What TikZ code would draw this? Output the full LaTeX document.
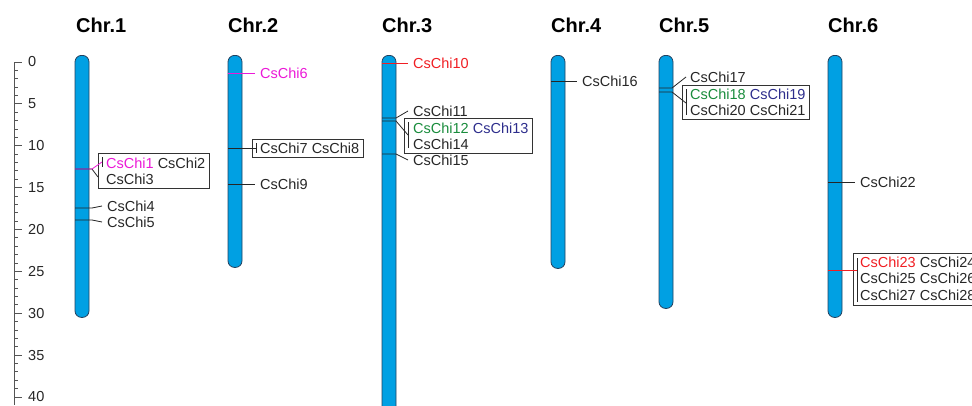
\documentclass[tikz,border=0pt]{standalone}
\usepackage{fontspec}
\setmainfont{Liberation Sans}
\usetikzlibrary{fit}
\definecolor{chrblue}{RGB}{0,160,227}
\definecolor{chrline}{RGB}{35,65,95}
\definecolor{genemag}{RGB}{235,25,215}
\definecolor{genered}{RGB}{240,30,35}
\definecolor{genegreen}{RGB}{25,140,60}
\definecolor{genenavy}{RGB}{45,45,140}
\definecolor{scalegray}{RGB}{85,85,85}
\begin{document}
\begin{tikzpicture}[x=1pt,y=-1pt,
	chrom/.style={draw=chrline,fill=chrblue,rounded corners=6.5pt,minimum width=14pt,inner sep=0pt,line width=0.8pt,anchor=north},
	gene/.style={font=\fontsize{14.5}{15.8}\selectfont,anchor=west,inner sep=0pt,text=black!85},
	genelist/.style={gene,anchor=north west,align=left},
	genebox/.style={draw=black!80,line width=0.7pt,inner sep=3.5pt},
	chrname/.style={font=\fontsize{20}{24}\selectfont\bfseries,anchor=west,inner sep=0pt},
	link/.style={line width=0.8pt,black!85}]
	\useasboundingbox (0,0) rectangle (972,405);
	\clip (0,0) rectangle (972,405);

	% scale in Mb
	\draw[scalegray,line width=0.8pt] (14,62) -- (14,405);
	\foreach \i in {0,...,40} \draw[scalegray,line width=0.8pt] (14,{62+8.375*\i}) -- ++(4,0);
	\foreach \i in {0,5,...,40}{
		\draw[scalegray,line width=0.8pt] (14,{62+8.375*\i}) -- ++(8,0);
		\node[gene] (s\i) at (28,{62+8.375*\i}) {\i};
	}

	\node[chrname] (n1) at (76,25) {Chr.1};
	\node[chrname] (n2) at (228,25) {Chr.2};
	\node[chrname] (n3) at (382,25) {Chr.3};
	\node[chrname] (n4) at (551,25) {Chr.4};
	\node[chrname] (n5) at (659,25) {Chr.5};
	\node[chrname] (n6) at (828,25) {Chr.6};

	\node[chrom,minimum height=262pt] (chr1) at (82,55) {};
	\node[chrom,minimum height=212pt] (chr2) at (235,55) {};
	\node[chrom,minimum height=380pt] (chr3) at (389,55) {};
	\node[chrom,minimum height=213pt] (chr4) at (558,55) {};
	\node[chrom,minimum height=253pt] (chr5) at (666,55) {};
	\node[chrom,minimum height=262pt] (chr6) at (835,55) {};

	% Chr.1
	\node[genelist] (g1) at (106,157.5) {\textcolor{genemag}{CsChi1} CsChi2\\CsChi3};
	\coordinate (b1a) at (102,157); \coordinate (b1b) at (102,167); \coordinate (b1) at (102,162);
	\draw[link] (b1a) -- (b1b);
	\node[genebox,fit=(g1)(b1a)(b1b)] (box1) {};
	\coordinate (k1) at (75,169); \coordinate (e3) at (98,177);
	\draw[link] (k1) -- ++(17,0) -- (e3);
	\draw[link,genemag] (k1) -- ++(17,0) -- (b1);
	\node[gene] (g4) at (107,206) {CsChi4};
	\node[gene] (g5) at (107,222) {CsChi5};
	\coordinate (k4) at (75,208); \coordinate (k5) at (75,220);
	\draw[link] (k4) -- ++(17,0) -- ([xshift=-5pt]g4.west);
	\draw[link] (k5) -- ++(17,0) -- ([xshift=-5pt]g5.west);

	% Chr.2
	\node[gene,text=genemag] (g6) at (260,73) {CsChi6};
	\coordinate (k6) at (228,73);
	\draw[link,genemag] (k6) -- ([xshift=-5pt]g6.west);
	\node[gene] (g7) at (260,148) {CsChi7 CsChi8};
	\coordinate (b7a) at (256,143); \coordinate (b7b) at (256,153);
	\draw[link] (b7a) -- (b7b);
	\node[genebox,fit=(g7)(b7a)(b7b)] (box7) {};
	\coordinate (k7) at (228,148);
	\draw[link] (k7) -- (k7 -| b7a);
	\node[gene] (g9) at (260,184) {CsChi9};
	\coordinate (k9) at (228,184);
	\draw[link] (k9) -- ([xshift=-5pt]g9.west);

	% Chr.3
	\node[gene,text=genered] (g10) at (413,63) {CsChi10};
	\coordinate (k10) at (382,63);
	\draw[link,genered] (k10) -- ([xshift=-5pt]g10.west);
	\node[gene] (g11) at (413,111) {CsChi11};
	\coordinate (k11) at (382,118);
	\draw[link] (k11) -- ++(14,0) -- ([xshift=-5pt]g11.west);
	\node[genelist] (g12) at (413,122.5) {\textcolor{genegreen}{CsChi12} \textcolor{genenavy}{CsChi13}\\CsChi14};
	\coordinate (b12a) at (408,122); \coordinate (b12b) at (408,148); \coordinate (b12) at (408,135);
	\draw[link] (b12a) -- (b12b);
	\node[genebox,fit=(g12)(b12a)(b12b)] (box12) {};
	\coordinate (k12) at (382,121);
	\draw[link] (k12) -- ++(14,0) -- (b12);
	\node[gene] (g15) at (413,160) {CsChi15};
	\coordinate (k15) at (382,154);
	\draw[link] (k15) -- ++(14,0) -- ([xshift=-5pt]g15.west);

	% Chr.4
	\node[gene] (g16) at (582,81) {CsChi16};
	\coordinate (k16) at (551,81);
	\draw[link] (k16) -- ([xshift=-5pt]g16.west);

	% Chr.5
	\node[gene] (g17) at (690,77) {CsChi17};
	\coordinate (k17) at (659,88);
	\draw[link] (k17) -- ++(13,0) -- ([xshift=-4pt]g17.west);
	\node[genelist] (g18) at (690,88.5) {\textcolor{genegreen}{CsChi18} \textcolor{genenavy}{CsChi19}\\CsChi20 CsChi21};
	\coordinate (b18a) at (686,89); \coordinate (b18b) at (686,115); \coordinate (b18) at (686,103);
	\draw[link] (b18a) -- (b18b);
	\node[genebox,fit=(g18)(b18a)(b18b)] (box18) {};
	\coordinate (k18) at (659,92);
	\draw[link] (k18) -- ++(13,0) -- (b18);

	% Chr.6
	\node[gene] (g22) at (860,182) {CsChi22};
	\coordinate (k22) at (828,182);
	\draw[link] (k22) -- ([xshift=-5pt]g22.west);
	\node[genelist,font=\fontsize{14.5}{16.5}\selectfont] (g23) at (860,256.5) {\textcolor{genered}{CsChi23} CsChi24\\CsChi25 CsChi26\\CsChi27 CsChi28};
	\coordinate (b23a) at (857,258); \coordinate (b23b) at (857,302);
	\draw[link] (b23a) -- (b23b);
	\node[genebox,fit=(g23)(b23a)(b23b)] (box23) {};
	\coordinate (k23) at (828,270);
	\draw[link,genered] (k23) -- (k23 -| b23a);
\end{tikzpicture}
\end{document}
